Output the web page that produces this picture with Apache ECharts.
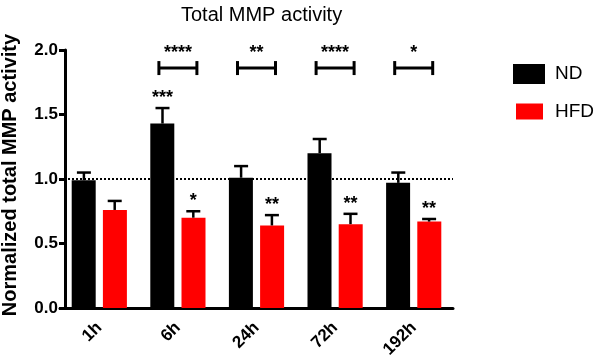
<!DOCTYPE html>
<html><head><meta charset="utf-8">
<script src="https://cdn.jsdelivr.net/npm/echarts@6/dist/echarts.min.js"></script>
<style>html,body{margin:0;padding:0;background:#fff}#c{width:596px;height:361px}</style>
</head><body><div id="c"></div>
<script>
var categories = ['1h','6h','24h','72h','192h'];
var ndMean = [0.99,1.43,1.01,1.20,0.97];
var ndErr = [0.06,0.12,0.09,0.11,0.08];
var hfdMean = [0.76,0.70,0.64,0.65,0.67];
var hfdErr = [0.07,0.05,0.08,0.08,0.02];
var ndStars = ['','***','','',''];
var hfdStars = ['','*','**','**','**'];
var bracketStars = ['','****','**','****','*'];
var bracketLevel = 1.86;
var refLevel = 1.0;

var FONT = 'Liberation Sans, Arial, sans-serif';
var chart = echarts.init(document.getElementById('c'));

function errSeries(name, means, errs, stars, side){
  return {
    type:'custom', name: name+'_err', silent:true, z:5,
    data: means.map(function(m,i){return [i,m,m+errs[i]];}),
    renderItem: function(params, api){
      var i = api.value(0);
      var band = api.size([1,0])[0];
      var off = side * band * 0.196;
      var base = api.coord([i, api.value(1)]);
      var top = api.coord([i, api.value(2)]);
      var x = base[0] + off;
      var children = [
        {type:'line', shape:{x1:x,y1:base[1],x2:x,y2:top[1]}, style:{stroke:'#000',lineWidth:2.5}},
        {type:'line', shape:{x1:x-7,y1:top[1],x2:x+7,y2:top[1]}, style:{stroke:'#000',lineWidth:2.5}}
      ];
      var s = stars[i];
      if(s){
        children.push({type:'text', style:{text:s, x:x, y:top[1]-1, align:'center', verticalAlign:'bottom', font:'bold 18px '+FONT, fill:'#000'}});
      }
      return {type:'group', children:children};
    }
  };
}

var bracketData = bracketStars.map(function(s,i){return [i, bracketLevel, s];}).filter(function(d){return d[2];});

var option = {
  animation:false,
  title:{text:'Total MMP activity', left:176, top:0, textStyle:{fontFamily:FONT, fontSize:20, fontWeight:'normal', color:'#000'}},
  legend:[
    {orient:'vertical', left:508, top:59, itemWidth:32, itemHeight:20, icon:'rect',
      data:['ND'], textStyle:{fontFamily:FONT, fontSize:19, color:'#000', padding:[0,0,0,5]}},
    {orient:'vertical', left:511, top:97, itemWidth:27, itemHeight:16, icon:'rect',
      data:['HFD'], textStyle:{fontFamily:FONT, fontSize:19, color:'#000', padding:[0,0,0,7]}}
  ],
  grid:{left:60, right:143, top:50, bottom:53, containLabel:false, outerBoundsMode:'none'},
  xAxis:{type:'category', data:categories,
    axisLine:{lineStyle:{color:'#000', width:3}},
    axisTick:{alignWithLabel:true, length:8, lineStyle:{width:3, color:'#000'}},
    axisLabel:{rotate:45, fontFamily:FONT, fontWeight:'bold', fontSize:17, color:'#000', margin:17}},
  yAxis:{type:'value', min:0, max:2, interval:0.5, offset:-5,
    name:'Normalized total MMP activity', nameLocation:'middle', nameGap:45,
    nameTextStyle:{fontFamily:FONT, fontWeight:'bold', fontSize:20, color:'#000', padding:[0,0,0,8]},
    axisLine:{show:true, lineStyle:{color:'#000', width:3}},
    axisTick:{show:true, length:6, lineStyle:{width:3, color:'#000'}},
    splitLine:{show:false},
    axisLabel:{fontFamily:FONT, fontWeight:'bold', fontSize:17, color:'#000', margin:7,
      formatter:function(v){return v.toFixed(1);}}},
  series:[
    {type:'bar', name:'ND', data:ndMean, barWidth:24, barGap:'30%', itemStyle:{color:'#000'},
      markLine:{silent:true, symbol:'none', label:{show:false},
        lineStyle:{color:'#000', type:'dotted', width:2}, data:[{yAxis:refLevel}]}},
    {type:'bar', name:'HFD', data:hfdMean, barWidth:24, itemStyle:{color:'#ff0000'}},
    errSeries('ND', ndMean, ndErr, ndStars, -1),
    errSeries('HFD', hfdMean, hfdErr, hfdStars, 1),
    {type:'custom', name:'brackets', silent:true, z:6,
      data: bracketData,
      renderItem:function(params, api){
        var p = api.coord([api.value(0), api.value(1)]);
        var half = 19;
        var txt = bracketData[params.dataIndex][2];
        return {type:'group', children:[
          {type:'line', shape:{x1:p[0]-half,y1:p[1],x2:p[0]+half,y2:p[1]}, style:{stroke:'#000',lineWidth:3}},
          {type:'line', shape:{x1:p[0]-half,y1:p[1]-7,x2:p[0]-half,y2:p[1]+7}, style:{stroke:'#000',lineWidth:3}},
          {type:'line', shape:{x1:p[0]+half,y1:p[1]-7,x2:p[0]+half,y2:p[1]+7}, style:{stroke:'#000',lineWidth:3}},
          {type:'text', style:{text:txt, x:p[0], y:p[1]-6, align:'center', verticalAlign:'bottom', font:'bold 18px '+FONT, fill:'#000'}}
        ]};
      }}
  ]
};
chart.setOption(option);
</script></body></html>
